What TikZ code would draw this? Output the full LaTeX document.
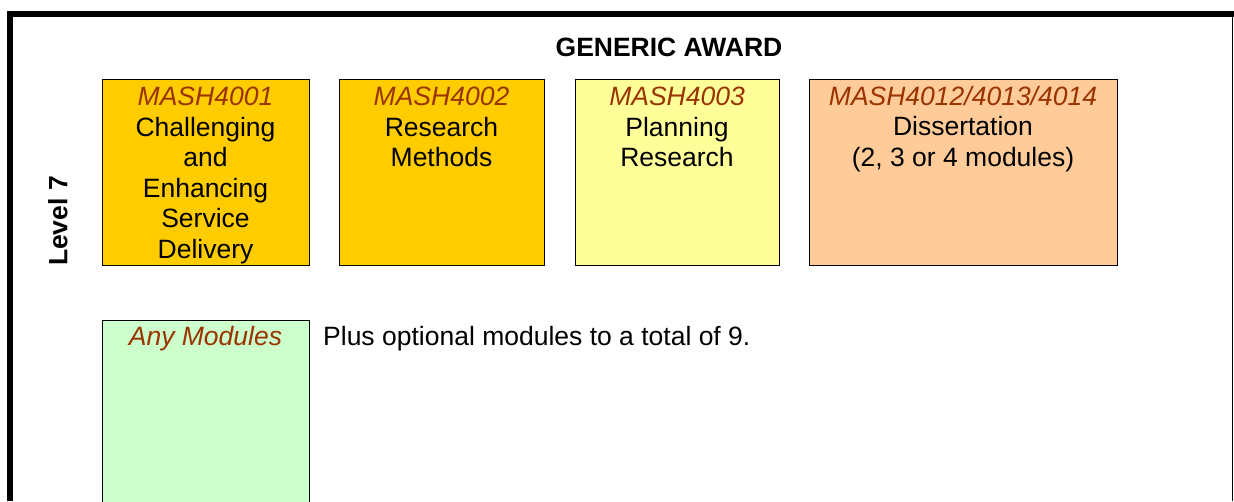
\documentclass[tikz,border=0pt]{standalone}
\usepackage{fontspec}
\setmainfont{Liberation Sans}
\definecolor{amber}{HTML}{FFCC00}
\definecolor{paleyellow}{HTML}{FFFF99}
\definecolor{peach}{HTML}{FFCC99}
\definecolor{palegreen}{HTML}{CCFFCC}
\definecolor{codebrown}{HTML}{993300}
\newcommand{\modcode}[1]{\textcolor{codebrown}{\itshape #1}}
\begin{document}
\begin{tikzpicture}[
                x = 1pt, y = -1pt,
                mod/.style = {draw, line width = 1pt, rectangle, anchor = north west, inner sep = 0mm},
                txt/.style = {anchor = north, align = center, inner sep = 0mm, font = \fontsize{26.5}{30.5}\selectfont},
                head/.style = {inner sep = 0mm, font = \fontsize{26.5}{30.5}\selectfont\bfseries},
            ]
            \useasboundingbox (0, 0) rectangle (1234, 501);

            % frame
            \coordinate (TL) at (10, 13.5);
            \coordinate (TR) at (1234, 13.5);
            \coordinate (BL) at (10, 501);
            \coordinate (RT) at (1232.5, 11);
            \coordinate (RB) at (1232.5, 501);
            \draw[line width = 6pt] (BL) -- (10, 10.5);
            \draw[line width = 6pt] (7, 13.5) -- (TR);
            \draw[line width = 1.5pt] (RT) -- (RB);

            \node (AW) at (669, 47) [head] {GENERIC AWARD};
            \node (LV) at (58, 221) [head, rotate = 90] {Level 7};

            \node (M1) at (102, 79) [mod, fill = amber, minimum width = 207pt, minimum height = 186pt] {};
            \node (M2) at (339, 79) [mod, fill = amber, minimum width = 205pt, minimum height = 186pt] {};
            \node (M3) at (575, 79) [mod, fill = paleyellow, minimum width = 204pt, minimum height = 186pt] {};
            \node (M4) at (809, 79) [mod, fill = peach, minimum width = 308pt, minimum height = 186pt] {};
            \node (M5) at (102, 320) [mod, fill = palegreen, minimum width = 207pt, minimum height = 200pt] {};

            \node (T1) at (205.5, 87) [txt] {\modcode{MASH4001}\\Challenging\\and\\Enhancing\\Service\\Delivery};
            \node (T2) at (441.5, 87) [txt] {\modcode{MASH4002}\\Research\\Methods};
            \node (T3) at (677, 87) [txt] {\modcode{MASH4003}\\Planning\\Research};
            \node (T4) at (963, 86) [txt] {\modcode{MASH4012/4013/4014}\\Dissertation\\(2, 3 or 4 modules)};
            \node (T5) at (205.5, 326) [txt] {\modcode{Any Modules}};

            \node (PL) at (323, 339) [txt, anchor = west] {Plus optional modules to a total of 9.};
        \end{tikzpicture}
\end{document}
